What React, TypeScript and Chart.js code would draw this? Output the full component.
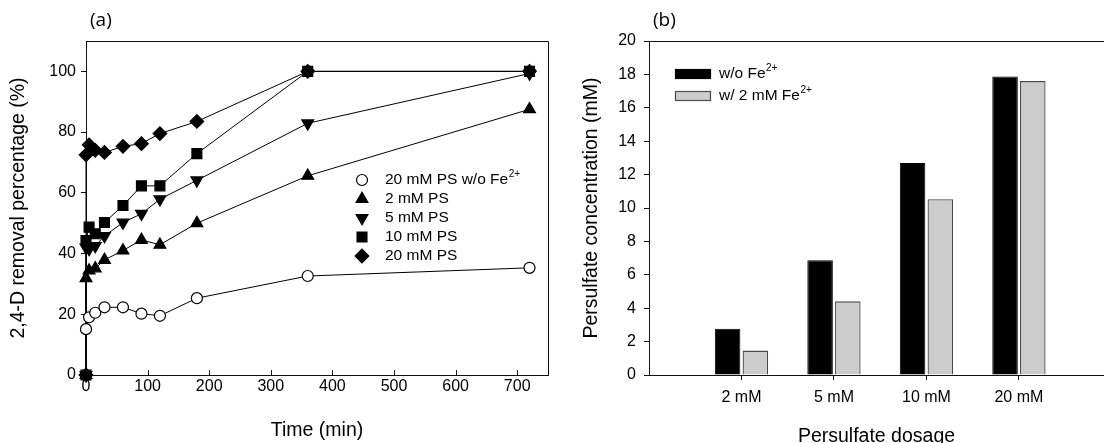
import React, { useEffect, useRef } from 'react';
import { Chart, registerables } from 'chart.js';
import { drawPoint } from 'chart.js/helpers';

Chart.register(...registerables);

// ---------- Panel (a) data ----------
const timeNoFe = [0, 5, 15, 30, 60, 90, 120, 180, 360, 720];
const timeFe = [0, 0, 5, 15, 30, 60, 90, 120, 180, 360, 720];
const removalNoFe = [15.1, 19.0, 20.5, 22.3, 22.3, 20.2, 19.5, 25.3, 32.6, 35.3];
const removal2mM = [0, 31.9, 34.4, 35.1, 37.9, 41.0, 44.5, 42.9, 50.0, 65.6, 87.5];
const removal5mM = [0, 42.0, 41.5, 42.5, 45.8, 50.2, 53.1, 57.9, 64.1, 82.9, 99.3];
const removal10mM = [0, 44.3, 48.7, 46.5, 50.2, 55.8, 62.3, 62.3, 72.9, 100, 100];
const removal20mM = [0, 72.5, 75.8, 74.0, 73.3, 75.3, 76.2, 79.5, 83.5, 100, 100];
const seriesNames = ['20 mM PS w/o Fe', '2 mM PS', '5 mM PS', '10 mM PS', '20 mM PS'];

// ---------- Panel (b) data ----------
const dosagePositions = [1, 2, 3, 4];
const dosageLabels = ['2 mM', '5 mM', '10 mM', '20 mM'];
const concNoFe = [2.77, 6.87, 12.69, 17.88];
const concFe = [1.46, 4.41, 10.52, 17.6];
const barNames = ['w/o Fe', 'w/ 2 mM Fe'];

const SANS = '"Liberation Sans", Arial, sans-serif';
const TICK_FONT = { family: SANS, size: 16 };
const TITLE_FONT = { family: SANS, size: 19.5, lineHeight: 1 };
const LEGEND_SIZE = 15.5;
const AXIS = '#111';

function toXY(xs: number[], ys: number[]) {
  return xs.map((x, i) => ({ x, y: ys[i] }));
}

function drawSuperLabel(ctx: CanvasRenderingContext2D, text: string, x: number, y: number) {
  ctx.font = `${LEGEND_SIZE}px ${SANS}`;
  ctx.fillStyle = '#000';
  ctx.textAlign = 'left';
  ctx.textBaseline = 'middle';
  ctx.fillText(text, x, y);
  if (text.endsWith('Fe')) {
    const w = ctx.measureText(text).width;
    ctx.font = `10px ${SANS}`;
    ctx.fillText('2+', x + w + 0.5, y - 6);
  }
}

const panelLabel = (label: string, font: string) => ({
  id: 'panelLabel' + label,
  afterDraw(chart: any) {
    const { ctx, chartArea } = chart;
    ctx.save();
    ctx.font = font;
    ctx.fillStyle = '#000';
    ctx.textAlign = 'left';
    ctx.textBaseline = 'middle';
    ctx.fillText(label, chartArea.left + 4, 21);
    ctx.restore();
  },
});

const boxPlugin = {
  id: 'boxA',
  afterDraw(chart: any) {
    const { ctx, chartArea, scales } = chart;
    ctx.save();
    ctx.strokeStyle = AXIS;
    ctx.lineWidth = 1;
    ctx.beginPath();
    const t = Math.round(chartArea.top) + 0.5;
    const r = Math.round(chartArea.right) + 0.5;
    const b = Math.round(chartArea.bottom) + 0.5;
    ctx.moveTo(chartArea.left, t);
    ctx.lineTo(r, t);
    ctx.lineTo(r, b);
    ctx.stroke();
    // inner ticks on x axis
    const xs = scales.x;
    ctx.beginPath();
    xs.ticks.forEach((tk: any) => {
      const px = Math.round(xs.getPixelForValue(tk.value)) + 0.5;
      ctx.moveTo(px, chartArea.bottom);
      ctx.lineTo(px, chartArea.bottom - 5);
    });
    ctx.stroke();
    ctx.restore();
  },
};

const legendA = {
  id: 'legendA',
  afterDraw(chart: any) {
    const { ctx } = chart;
    ctx.save();
    chart.data.datasets.forEach((ds: any, i: number) => {
      const y = 180 + i * 19;
      ctx.fillStyle = ds.pointBackgroundColor;
      ctx.strokeStyle = ds.pointBorderColor;
      ctx.lineWidth = ds.pointBorderWidth;
      drawPoint(ctx, { pointStyle: ds.pointStyle, rotation: ds.pointRotation || 0, radius: ds.legendRadius, borderWidth: ds.pointBorderWidth }, 362, y);
      drawSuperLabel(ctx, ds.label, 385, y);
    });
    ctx.restore();
  },
};

const legendB = {
  id: 'legendB',
  afterDraw(chart: any) {
    const { ctx, chartArea } = chart;
    ctx.save();
    chart.data.datasets.forEach((ds: any, i: number) => {
      const y = 74 + i * 22;
      const x0 = chartArea.left + 26;
      ctx.fillStyle = ds.backgroundColor;
      ctx.fillRect(x0, y - 4.5, 36, 9);
      ctx.strokeStyle = ds.borderColor;
      ctx.lineWidth = 1.2;
      ctx.strokeRect(x0 + 0.5, y - 4.5, 35, 9);
      drawSuperLabel(ctx, ds.label, x0 + 44, y);
    });
    ctx.restore();
  },
};

const topBorderB = {
  id: 'topBorderB',
  afterDraw(chart: any) {
    const { ctx, chartArea } = chart;
    ctx.save();
    ctx.strokeStyle = AXIS;
    ctx.lineWidth = 1;
    ctx.beginPath();
    const t = Math.round(chartArea.top) + 0.5;
    ctx.moveTo(chartArea.left, t);
    ctx.lineTo(chartArea.right, t);
    ctx.stroke();
    ctx.restore();
  },
};

function lineDs(label: string, xs: number[], ys: number[], style: string, fill: string, radius: number, rotation = 0) {
  return {
    label,
    data: toXY(xs, ys),
    borderColor: '#000',
    borderWidth: 1,
    pointStyle: style,
    pointRotation: rotation,
    pointRadius: radius,
    legendRadius: radius,
    pointBackgroundColor: fill,
    pointBorderColor: '#000',
    pointBorderWidth: 1.2,
    showLine: true,
    tension: 0,
    clip: false,
  };
}

function PanelA() {
  const ref = useRef<HTMLCanvasElement>(null);
  useEffect(() => {
    const chart = new Chart(ref.current!, {
      type: 'scatter',
      data: {
        datasets: [
          lineDs(seriesNames[0], timeNoFe, removalNoFe, 'circle', '#fff', 5.5),
          lineDs(seriesNames[1], timeFe, removal2mM, 'triangle', '#000', 6.8),
          lineDs(seriesNames[2], timeFe, removal5mM, 'triangle', '#000', 6.8, 180),
          lineDs(seriesNames[3], timeFe, removal10mM, 'rect', '#000', 7),
          lineDs(seriesNames[4], timeFe, removal20mM, 'rectRot', '#000', 6.8),
        ] as any,
      },
      options: {
        animation: false,
        responsive: false,
        layout: { padding: { left: 0, top: 41, right: 12, bottom: 0 } },
        plugins: { legend: { display: false }, tooltip: { enabled: false } },
        scales: {
          x: {
            type: 'linear',
            min: 0,
            max: 750,
            ticks: { stepSize: 100, includeBounds: false, font: TICK_FONT, color: '#000', padding: 2, maxRotation: 0 },
            grid: { display: true, drawOnChartArea: false, drawTicks: false },
            border: { display: true, color: AXIS, width: 1 },
            title: { display: true, text: 'Time (min)', font: TITLE_FONT, color: '#000', padding: { top: 0, bottom: 3 } },
            afterFit: (s: any) => { s.height = 68; },
          },
          y: {
            min: 0,
            max: 110,
            ticks: { stepSize: 20, includeBounds: false, font: TICK_FONT, color: '#000', padding: 5 },
            grid: { drawOnChartArea: false, drawTicks: true, tickLength: 5, tickColor: AXIS },
            border: { display: true, color: AXIS, width: 1 },
            title: { display: true, text: '2,4-D removal percentage (%)', font: TITLE_FONT, color: '#000', padding: { top: 9, bottom: 0 } },
            afterFit: (s: any) => { s.width = 86; },
          },
        },
      } as any,
      plugins: [boxPlugin, legendA, panelLabel('(a)', '19px "Open Sans", sans-serif')],
    });
    return () => chart.destroy();
  }, []);
  return <canvas ref={ref} width={560} height={443} style={{ position: 'absolute', left: 0, top: 0, width: 560, height: 443 }} />;
}

function PanelB() {
  const ref = useRef<HTMLCanvasElement>(null);
  useEffect(() => {
    const chart = new Chart(ref.current!, {
      type: 'bar',
      data: {
        datasets: [
          { label: barNames[0], data: toXY(dosagePositions, concNoFe), backgroundColor: '#000', borderColor: '#000', borderWidth: 1 },
          { label: barNames[1], data: toXY(dosagePositions, concFe), backgroundColor: '#cccccc', borderColor: '#4a4a4a', borderWidth: 1.3 },
        ] as any,
      },
      options: {
        animation: false,
        responsive: false,
        datasets: { bar: { categoryPercentage: 0.6, barPercentage: 0.92 } },
        layout: { padding: { left: 0, top: 41, right: 0, bottom: 0 } },
        plugins: { legend: { display: false }, tooltip: { enabled: false } },
        scales: {
          x: {
            type: 'linear',
            min: 0,
            max: 4.92,
            offset: false,
            afterBuildTicks: (s: any) => { s.ticks = dosagePositions.map((v) => ({ value: v })); },
            ticks: {
              font: TICK_FONT, color: '#000', padding: 8, maxRotation: 0, autoSkip: false,
              callback: (v: number) => { const i = dosagePositions.indexOf(v); return i >= 0 ? dosageLabels[i] : ''; },
            },
            grid: { offset: false, drawOnChartArea: false, drawTicks: true, tickLength: 5, tickColor: AXIS },
            border: { display: true, color: AXIS, width: 1 },
            title: { display: true, text: 'Persulfate dosage', font: TITLE_FONT, color: '#000', padding: { top: 0, bottom: -3 } },
            afterFit: (s: any) => { s.height = 68; },
          },
          y: {
            min: 0,
            max: 20,
            ticks: { stepSize: 2, font: TICK_FONT, color: '#000', padding: 8 },
            grid: { drawOnChartArea: false, drawTicks: true, tickLength: 5, tickColor: AXIS },
            border: { display: true, color: AXIS, width: 1 },
            title: { display: true, text: 'Persulfate concentration (mM)', font: TITLE_FONT, color: '#000', padding: { top: 22, bottom: 0 } },
            afterFit: (s: any) => { s.width = 89; },
          },
        },
      } as any,
      plugins: [topBorderB, legendB, panelLabel('(b)', '19px "Open Sans", sans-serif')],
    });
    return () => chart.destroy();
  }, []);
  return <canvas ref={ref} width={544} height={443} style={{ position: 'absolute', left: 560, top: 0, width: 544, height: 443 }} />;
}

export default function App() {
  return (
    <div style={{ position: 'absolute', left: 0, top: 0, width: 1104, height: 443, overflow: 'hidden', background: '#fff' }}>
      <PanelA />
      <PanelB />
    </div>
  );
}
